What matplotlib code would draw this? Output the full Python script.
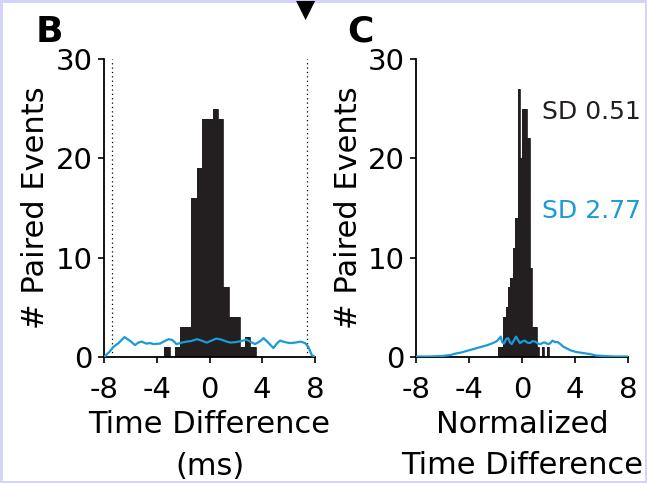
import numpy as np
import matplotlib.pyplot as plt

plt.rcParams['font.family'] = ['DejaVu Sans']
plt.rcParams['axes.unicode_minus'] = False

BAR = '#231f20'
BLUE = '#1a9ad7'

# panel B: paired event time differences (ms)
b_bin_start = -3.43
b_bin_width = 0.408
b_counts = [1, 0, 1, 3, 3, 16, 19, 24, 24, 25, 24, 7, 4, 4, 1, 2, 1]
# shuffled control (blue)
b_shuf_x = [-8.0, -7.6, -7.3, -6.9, -6.45, -6.0, -5.65, -5.4, -5.15, -4.8, -4.5,
            -4.25, -3.75, -3.4, -3.1, -2.8, -2.5, -2.1, -1.75, -1.4, -0.95, -0.6,
            -0.2, 0.15, 0.5, 0.9, 1.3, 1.6, 2.0, 2.4, 2.8, 3.15, 3.45, 3.8, 4.1,
            4.45, 4.85, 5.1, 5.35, 5.7, 6.1, 6.5, 6.9, 7.25, 7.5, 7.75, 8.0]
b_shuf_y = [0.0, 0.5, 1.0, 1.4, 2.0, 1.6, 1.2, 1.45, 1.55, 1.35, 1.4,
            1.3, 1.35, 1.6, 1.8, 1.7, 1.3, 1.45, 1.55, 1.6, 1.8, 1.65,
            1.45, 1.65, 1.85, 1.75, 1.55, 1.45, 1.5, 1.6, 1.75, 1.5, 1.3, 1.55, 1.9,
            1.45, 0.9, 1.35, 1.65, 1.5, 1.4, 1.45, 1.55, 1.4, 1.0, 0.2, 0.0]
b_window = [-7.4, 7.4]

# panel C: normalized time differences
c_bin_start = -1.789
c_bin_width = 0.1826
c_counts = [1, 1, 4, 5, 7, 8, 11, 14, 27, 20, 25, 25, 22, 9, 3, 3, 1, 0, 1, 0, 1]
c_shuf_x = [-8.0, -7.0, -6.0, -5.4, -5.0, -4.6, -4.2, -3.8, -3.4, -3.0, -2.6,
            -2.2, -1.9, -1.7, -1.6, -1.5, -1.35, -1.2, -1.05, -0.9, -0.78, -0.6,
            -0.45, -0.3, -0.15, 0.0, 0.2, 0.4, 0.6, 0.8, 1.0, 1.2, 1.4, 1.6, 1.75,
            1.95, 2.1, 2.3, 2.5, 2.7, 2.9, 3.1, 3.4, 3.7, 4.1, 4.6, 5.1, 5.6, 6.2,
            7.0, 8.0]
c_shuf_y = [0.05, 0.05, 0.1, 0.2, 0.35, 0.45, 0.6, 0.75, 0.9, 1.05, 1.2,
            1.4, 1.6, 1.9, 2.05, 1.5, 1.35, 1.8, 1.9, 1.45, 1.3, 1.7,
            2.05, 1.7, 1.4, 1.55, 1.65, 1.45, 1.4, 1.6, 1.55, 1.35, 1.3, 1.45, 1.45,
            1.3, 1.35, 1.65, 1.5, 1.5, 1.3, 1.05, 0.85, 0.65, 0.5, 0.4, 0.3, 0.15, 0.1,
            0.05, 0.05]
c_sd_real = 'SD 0.51'
c_sd_shuf = 'SD 2.77'

xticks = [-8, -4, 0, 4, 8]
yticks = [0, 10, 20, 30]

W, H = 647, 483
fig = plt.figure(figsize=(W / 100, H / 100), dpi=100,
                 edgecolor='#d4d4f7', linewidth=3.5)
axB = fig.add_axes([104 / W, 1 - 357 / H, 211 / W, 298 / H])
axC = fig.add_axes([416 / W, 1 - 357 / H, 212 / W, 298 / H])


def style(ax):
    for s in ['top', 'right']:
        ax.spines[s].set_visible(False)
    for s in ['left', 'bottom']:
        ax.spines[s].set_linewidth(1.3)
    ax.set_xlim(-8, 8)
    ax.set_ylim(0, 30)
    ax.set_xticks(xticks)
    ax.set_yticks(yticks)
    ax.tick_params(direction='out', length=4, width=1.2, labelsize=21)
    ax.tick_params(axis='x', pad=10)
    ax.tick_params(axis='y', pad=4)
    ax.set_ylabel('# Paired Events', fontsize=22)


def draw_hist(ax, start, width, counts):
    edges = start + width * np.arange(len(counts) + 1)
    ax.stairs(counts, edges, fill=True, color=BAR, lw=0)
    ax.stairs(counts, edges, color=BAR, lw=0.6)


# B
draw_hist(axB, b_bin_start, b_bin_width, b_counts)
axB.plot(b_shuf_x, b_shuf_y, color=BLUE, lw=1.6, zorder=3)
for xv in b_window:
    axB.axvline(xv, color='k', ls=(0, (1, 2.5)), lw=0.9)
style(axB)
axB.set_xlabel('Time Difference\n(ms)', fontsize=22, linespacing=1.55, labelpad=4)
axB.yaxis.set_label_coords(-0.255, 0.5)

# C
draw_hist(axC, c_bin_start, c_bin_width, c_counts)
axC.plot(c_shuf_x, c_shuf_y, color=BLUE, lw=1.6, zorder=3)
style(axC)
axC.set_xlabel('Normalized\nTime Difference', fontsize=22, linespacing=1.5, labelpad=4)
axC.yaxis.set_label_coords(-0.25, 0.5)
axC.text(1.5, 24, c_sd_real, fontsize=18, color=BAR, va='baseline')
axC.text(1.5, 14, c_sd_shuf, fontsize=18, color=BLUE, va='baseline')

# panel letters
fig.text(36 / W, 1 - 42 / H, 'B', fontsize=26, fontweight='bold', va='baseline')
fig.text(347 / W, 1 - 42 / H, 'C', fontsize=26, fontweight='bold', va='baseline')
# arrowhead from the panel above
fig.text(305.5 / W, 1 + 2 / H, '\u25bc', fontsize=18, ha='center', va='top')

fig.savefig('out.png', dpi=100)
